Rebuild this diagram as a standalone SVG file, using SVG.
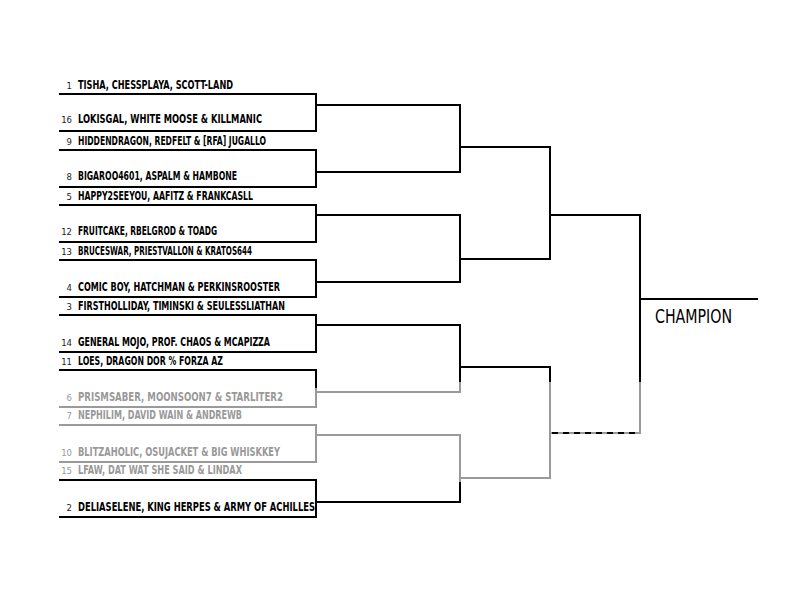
<svg xmlns="http://www.w3.org/2000/svg" width="800" height="600" viewBox="0 0 800 600">
<style>
.bg{fill:#fff}
.ln{stroke:#000;stroke-width:2;fill:none;stroke-linecap:square}
.gl{stroke:#9a9a9a;stroke-width:2;fill:none;stroke-linecap:square}
.dl{stroke:#000;stroke-width:2;fill:none;stroke-dasharray:6 5}
.nm{font-family:"DejaVu Sans Condensed","DejaVu Sans",sans-serif;font-weight:bold;font-size:12px;fill:#000}
.sd{font-family:"DejaVu Sans","Liberation Sans",sans-serif;font-size:8.5px;fill:#222;text-anchor:end}
.g{fill:#999}
.ch{font-family:"DejaVu Sans Condensed","DejaVu Sans",sans-serif;font-size:20px;fill:#000}
</style>
<rect class="bg" x="0" y="0" width="800" height="600"/>
<g id="connectors">
  <path class="ln" d="M60 94H316V131H60"/>
  <path class="ln" d="M60 150H316V187H60"/>
  <path class="ln" d="M60 205H316V242H60"/>
  <path class="ln" d="M60 260H316V297H60"/>
  <path class="ln" d="M60 315H316V352H60"/>
  <path class="ln" d="M60 370H316V389"/>
  <path class="gl" d="M316 389V407H60"/>
  <path class="gl" d="M60 425H316V462H60"/>
  <path class="ln" d="M60 480H316V517H60"/>
  <path class="ln" d="M316 105H460V172H316"/>
  <path class="ln" d="M316 215H460V282H316"/>
  <path class="ln" d="M316 325H460V383"/>
  <path class="gl" d="M460 383V392H316"/>
  <path class="gl" d="M316 435H460V483"/>
  <path class="ln" d="M460 483V502H316"/>
  <path class="ln" d="M460 147H550V259H460"/>
  <path class="ln" d="M460 367H550V383"/>
  <path class="gl" d="M550 383V478H460"/>
  <path class="ln" d="M550 215H640V383"/>
  <path class="gl" d="M640 383V433H550"/>
  <path class="gl" d="M550 433H640"/>
  <path class="dl" d="M552 433H636"/>
  <path class="ln" d="M641 299H757"/>
</g>
<g id="team-1"><text class="sd" x="72" y="89">1</text><text class="nm" x="78" y="89" textLength="155" lengthAdjust="spacingAndGlyphs">TISHA, CHESSPLAYA, SCOTT-LAND</text></g>
<g id="team-16"><text class="sd" x="72" y="123">16</text><text class="nm" x="78" y="123" textLength="184" lengthAdjust="spacingAndGlyphs">LOKISGAL, WHITE MOOSE &amp; KILLMANIC</text></g>
<g id="team-9"><text class="sd" x="72" y="145">9</text><text class="nm" x="78" y="145" textLength="188" lengthAdjust="spacingAndGlyphs">HIDDENDRAGON, REDFELT &amp; [RFA] JUGALLO</text></g>
<g id="team-8"><text class="sd" x="72" y="180">8</text><text class="nm" x="78" y="180" textLength="159" lengthAdjust="spacingAndGlyphs">BIGAROO4601, ASPALM &amp; HAMBONE</text></g>
<g id="team-5"><text class="sd" x="72" y="200">5</text><text class="nm" x="78" y="200" textLength="175" lengthAdjust="spacingAndGlyphs">HAPPY2SEEYOU, AAFITZ &amp; FRANKCASLL</text></g>
<g id="team-12"><text class="sd" x="72" y="235">12</text><text class="nm" x="78" y="235" textLength="139" lengthAdjust="spacingAndGlyphs">FRUITCAKE, RBELGROD &amp; TOADG</text></g>
<g id="team-13"><text class="sd" x="72" y="255">13</text><text class="nm" x="78" y="255" textLength="174" lengthAdjust="spacingAndGlyphs">BRUCESWAR, PRIESTVALLON &amp; KRATOS644</text></g>
<g id="team-4"><text class="sd" x="72" y="291">4</text><text class="nm" x="78" y="291" textLength="202" lengthAdjust="spacingAndGlyphs">COMIC BOY, HATCHMAN &amp; PERKINSROOSTER</text></g>
<g id="team-3"><text class="sd" x="72" y="310">3</text><text class="nm" x="78" y="310" textLength="207" lengthAdjust="spacingAndGlyphs">FIRSTHOLLIDAY, TIMINSKI &amp; SEULESSLIATHAN</text></g>
<g id="team-14"><text class="sd" x="72" y="346">14</text><text class="nm" x="78" y="346" textLength="192" lengthAdjust="spacingAndGlyphs">GENERAL MOJO, PROF. CHAOS &amp; MCAPIZZA</text></g>
<g id="team-11"><text class="sd" x="72" y="365">11</text><text class="nm" x="78" y="365" textLength="145" lengthAdjust="spacingAndGlyphs">LOES, DRAGON DOR % FORZA AZ</text></g>
<g id="team-6"><text class="sd g" x="72" y="401">6</text><text class="nm g" x="78" y="401" textLength="205" lengthAdjust="spacingAndGlyphs">PRISMSABER, MOONSOON7 &amp; STARLITER2</text></g>
<g id="team-7"><text class="sd g" x="72" y="419">7</text><text class="nm g" x="78" y="419" textLength="164" lengthAdjust="spacingAndGlyphs">NEPHILIM, DAVID WAIN &amp; ANDREWB</text></g>
<g id="team-10"><text class="sd g" x="72" y="456">10</text><text class="nm g" x="78" y="456" textLength="202" lengthAdjust="spacingAndGlyphs">BLITZAHOLIC, OSUJACKET &amp; BIG WHISKKEY</text></g>
<g id="team-15"><text class="sd g" x="72" y="474">15</text><text class="nm g" x="78" y="474" textLength="164" lengthAdjust="spacingAndGlyphs">LFAW, DAT WAT SHE SAID &amp; LINDAX</text></g>
<g id="team-2"><text class="sd" x="72" y="511">2</text><text class="nm" x="78" y="511" textLength="237" lengthAdjust="spacingAndGlyphs">DELIASELENE, KING HERPES &amp; ARMY OF ACHILLES</text></g>
<g id="champion"><text class="ch" x="655" y="323" textLength="77" lengthAdjust="spacingAndGlyphs">CHAMPION</text></g>
</svg>
